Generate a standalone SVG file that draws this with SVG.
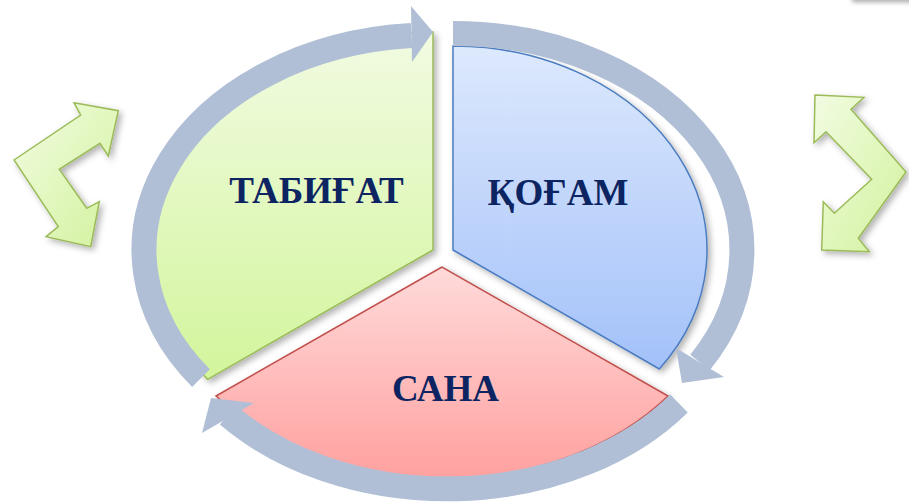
<svg xmlns="http://www.w3.org/2000/svg" width="909" height="502" viewBox="0 0 909 502">
<defs>
<linearGradient id="gGreen" x1="0" y1="0" x2="0" y2="1"><stop offset="0" stop-color="#F1FBE2"/><stop offset="1" stop-color="#D3F59C"/></linearGradient>
<linearGradient id="gBlue" x1="0" y1="0" x2="0" y2="1"><stop offset="0" stop-color="#DDE9FD"/><stop offset="1" stop-color="#A3C1F9"/></linearGradient>
<linearGradient id="gRed" x1="0" y1="0" x2="0" y2="1"><stop offset="0" stop-color="#FFDADA"/><stop offset="1" stop-color="#FFA19F"/></linearGradient>
<linearGradient id="gSide" x1="0" y1="0" x2="1" y2="1"><stop offset="0" stop-color="#F2FCE2"/><stop offset="1" stop-color="#D2F29C"/></linearGradient>
<filter id="shadow" x="-20%" y="-20%" width="140%" height="140%"><feDropShadow dx="3" dy="3" stdDeviation="3" flood-color="#000" flood-opacity="0.3"/></filter>
<filter id="blur" x="-50%" y="-50%" width="200%" height="200%"><feGaussianBlur stdDeviation="2.5"/></filter>
<style>
.lbl{font-family:"Liberation Serif","Times New Roman",serif;font-weight:bold;font-size:37px;fill:#0C2461;text-anchor:middle}
.band{fill:none;stroke:#B0BFD6;stroke-width:25;stroke-linecap:butt}
.head{fill:#B0BFD6}
.side{fill:url(#gSide);stroke:#9BBB59;stroke-width:1.5;stroke-linejoin:miter;filter:url(#shadow)}
</style>
</defs>
<rect x="0" y="0" width="909" height="502" fill="#FFFFFF"/>
<rect x="852" y="-12" width="70" height="14" fill="#000" opacity="0.35" filter="url(#blur)"/>

<g id="node-tabigat">
<path d="M433,250 L433,32 A280,218 0 0 0 207.6,379.4 Z" fill="url(#gGreen)" stroke="#9BBB59" stroke-width="1.5" filter="url(#shadow)"/>
<text class="lbl" x="316.5" y="203">ТАБИҒАТ</text>
</g>
<g id="node-kogam">
<path d="M453,250 L453,46 A254,204 0 0 1 659.3,369 Z" fill="url(#gBlue)" stroke="#4A7CC0" stroke-width="1.5" filter="url(#shadow)"/>
<text class="lbl" x="558" y="205">ҚОҒАМ</text>
</g>
<g id="node-sana">
<path d="M442,267 L216,396 A285,212 0 0 0 668,396 Z" fill="url(#gRed)" stroke="#C0504D" stroke-width="1.5" filter="url(#shadow)"/>
<text class="lbl" x="445.5" y="401">САНА</text>
</g>

<g id="connectors">
<path class="band" d="M201,378.2 A289,215 0 0 1 411.5,35.6"/>
<polygon class="head" points="433,32 411,6 412,62"/>
<path class="band" d="M453,33.5 A288,216.5 0 0 1 700,362.5"/>
<polygon class="head" points="682,383 676,348 724,377"/>
<path class="band" d="M679,403.5 A289,212 0 0 1 228,415"/>
<polygon class="head" points="211,398 202,433 254,403"/>
</g>

<g id="side-arrow-left">
<polygon class="side" points="14,160 80.7,115 74,102.7 118.3,110.7 108.3,156 100,143.3 59.3,169.3 86.7,208.3 99.3,201.7 90.7,246.7 46,236.7 58.3,226.7"/>
</g>
<g id="side-arrow-right">
<polygon class="side" points="815,95 864,97.3 851,109.3 906,172 858.3,238.3 869.3,251.7 821.7,250 823.3,201.7 834.3,213.3 871.7,179.3 826,131.7 814,142.7"/>
</g>
</svg>
